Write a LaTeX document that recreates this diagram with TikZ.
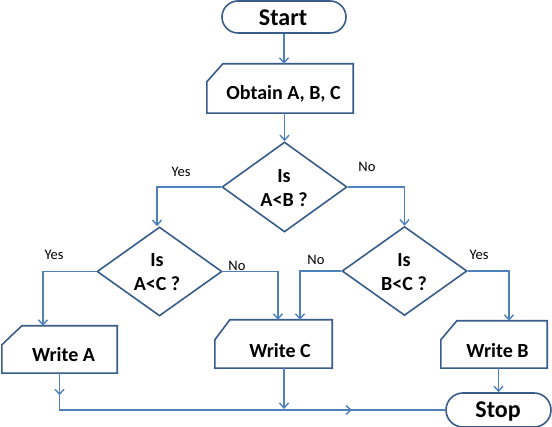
\documentclass[tikz,border=0pt]{standalone}
\usepackage{fontspec}
\setmainfont{Carlito}
\usetikzlibrary{shapes.geometric,shapes.misc,arrows.meta,calc}
\definecolor{conn}{HTML}{4F81BD}
\definecolor{edge}{HTML}{385D8A}
\tikzset{
  shp/.style={draw=edge,line width=1.6pt,fill=white,inner sep=0pt},
  outline/.style={draw=edge,line width=1.6pt,line join=miter},
  term/.style={shp,rounded rectangle},
  dia/.style={shp,diamond},
  iobox/.style={inner sep=0pt,rectangle},
  big/.style={font=\fontsize{24}{26}\selectfont\bfseries,inner sep=0pt},
  txt/.style={font=\fontsize{20}{24}\selectfont\bfseries,align=center,inner sep=0pt},
  lbl/.style={font=\fontsize{14.5}{16}\selectfont,inner sep=0pt},
  con/.style={draw=conn,line width=1.4pt},
  arr/.style={con,-{Straight Barb[length=5pt,width=9pt,line width=1.4pt]}}
}
\newcommand{\chamf}[3]{\draw[outline] ($(#1.north west)+(#2,0)$) -- (#1.north east) -- (#1.south east) -- (#1.south west) -- ($(#1.north west)+(0,#3)$) -- cycle;}
\begin{document}
\begin{tikzpicture}[x=1pt,y=-1pt]
\useasboundingbox[fill=white] (0,0) rectangle (552,427);
% shapes
\node[term,minimum width=124pt,minimum height=32pt] (start) at (284,17) {};
\node[big] (startt) at (283,17.5) {Start};
\node[iobox,minimum width=146pt,minimum height=49pt] (obtain) at (280,88.5) {};
\chamf{obtain}{16}{18}
\node[txt] (obtaint) at (283.5,94) {Obtain A, B, C};
\node[dia,minimum width=125pt,minimum height=90pt] (d1) at (284.5,187) {};
\node[txt] (d1t) at (284,188) {Is\\A<B ?};
\node[dia,minimum width=125pt,minimum height=89pt] (d2) at (159.5,271.5) {};
\node[txt] (d2t) at (157,272) {Is\\A<C ?};
\node[dia,minimum width=125pt,minimum height=89pt] (d3) at (404.5,271) {};
\node[txt] (d3t) at (404,272) {Is\\B<C ?};
\node[iobox,minimum width=115pt,minimum height=47pt] (wa) at (59.5,349.5) {};
\chamf{wa}{20}{19}
\node[txt] (wat) at (63.5,355) {Write A};
\node[iobox,minimum width=117pt,minimum height=48pt] (wc) at (273.5,344) {};
\chamf{wc}{15}{20}
\node[txt] (wct) at (280,350.5) {Write C};
\node[iobox,minimum width=106pt,minimum height=47pt] (wb) at (494,344.5) {};
\chamf{wb}{16}{19}
\node[txt] (wbt) at (497.5,350.5) {Write B};
\node[term,minimum width=105pt,minimum height=34pt] (stop) at (498.5,410) {};
\node[big] (stopt) at (498,412) {Stop};
% labels
\node[lbl] (l1) at (181,172) {Yes};
\node[lbl] (l2) at (367,167) {No};
\node[lbl] (l3) at (54,255) {Yes};
\node[lbl] (l4) at (237,266) {No};
\node[lbl] (l5) at (316,260) {No};
\node[lbl] (l6) at (479,255) {Yes};
% coordinates
\coordinate (wan) at ($(wa.north)+(-16.5,0)$);
\coordinate (wcn1) at ($(wc.north)+(4.5,0)$);
\coordinate (wcn2) at ($(wc.north)+(26.5,0)$);
\coordinate (wbn) at ($(wb.north)+(15,0)$);
\coordinate (ja) at (wa.south |- stop.west);
\coordinate (jc) at ($(wc.south)+(10.5,0)$);
\coordinate (jc2) at (jc |- stop.west);
\coordinate (mid) at (352,410);
% connectors
\draw[arr] (start.south) -- (start.south |- obtain.north);
\draw[arr] (d1.north |- obtain.south) -- (d1.north);
\draw[arr] (d1.west) -| ($(d2.north)+(-2.5,0)$);
\draw[arr] (d1.east) -| (d3.north);
\draw[arr] (d2.west) -| (wan);
\draw[arr] (d2.east) -| (wcn1);
\draw[arr] (d3.west) -| (wcn2);
\draw[arr] (d3.east) -| (wbn);
\draw[arr] (stop.north |- wb.south) -- (stop.north);
\draw[con] (wa.south) -- (ja) -- (mid);
\draw[arr] (wa.south) -- ($(wa.south)!0.6!(ja)$);
\draw[arr] (jc) -- ($(jc2)+(0,-1)$);
\draw[arr] (ja) -- (mid);
\draw[draw=conn,line width=2.6pt] (mid) -- (stop.west);
\end{tikzpicture}
\end{document}
